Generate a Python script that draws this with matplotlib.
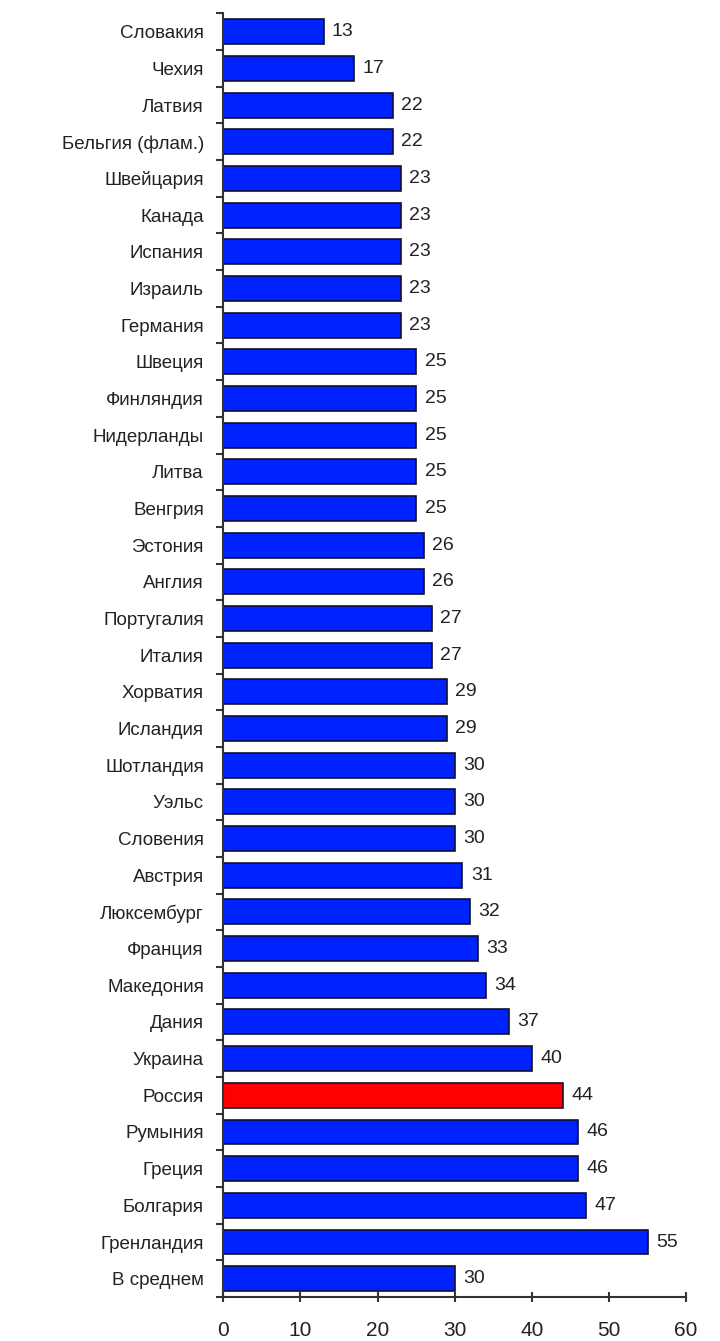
import numpy as np
import matplotlib.pyplot as plt

countries = ["Словакия", "Чехия", "Латвия", "Бельгия (флам.)", "Швейцария",
             "Канада", "Испания", "Израиль", "Германия", "Швеция",
             "Финляндия", "Нидерланды", "Литва", "Венгрия", "Эстония",
             "Англия", "Португалия", "Италия", "Хорватия", "Исландия",
             "Шотландия", "Уэльс", "Словения", "Австрия", "Люксембург",
             "Франция", "Македония", "Дания", "Украина", "Россия",
             "Румыния", "Греция", "Болгария", "Гренландия", "В среднем"]
values = [13, 17, 22, 22, 23, 23, 23, 23, 23, 25,
          25, 25, 25, 25, 26, 26, 27, 27, 29, 29,
          30, 30, 30, 31, 32, 33, 34, 37, 40, 44,
          46, 46, 47, 55, 30]
highlight = "Россия"
xticks = [0, 10, 20, 30, 40, 50, 60]

plt.rcParams['font.family'] = ['Liberation Sans', 'DejaVu Sans']

fig = plt.figure(figsize=(7.2, 13.41), dpi=100)
ax = fig.add_axes([0.31, 0.0328, 0.643, 0.9572])

n = len(countries)
y = np.arange(n)
colors = ['#ff0000' if c == highlight else '#0022ff' for c in countries]
ax.barh(y, values, height=0.68, color=colors, edgecolor='#101030', linewidth=1.2)

# value labels to the right of each bar
for yi, v in zip(y, values):
    ax.text(v + 1.1, yi, str(v), va='center', ha='left', fontsize=14, color='#222222')

ax.set_ylim(n - 0.5, -0.5)
ax.set_xlim(0, 60)
ax.set_yticks(y)
ax.set_yticklabels(countries, fontsize=13.5, color='#222222')
ax.tick_params(axis='y', which='major', length=0, pad=14)
ax.set_yticks(np.arange(n + 1) - 0.5, minor=True)
ax.tick_params(axis='y', which='minor', length=5, width=1.5, color='#333333')

ax.set_xticks(xticks)
ax.set_xticklabels([str(t) for t in xticks], fontsize=15, color='#222222')
ax.tick_params(axis='x', direction='inout', length=7, width=1.5, color='#333333', pad=14)

for s in ['top', 'right']:
    ax.spines[s].set_visible(False)
for s in ['left', 'bottom']:
    ax.spines[s].set_color('#333333')
    ax.spines[s].set_linewidth(1.5)

fig.savefig('out.png', dpi=100)
